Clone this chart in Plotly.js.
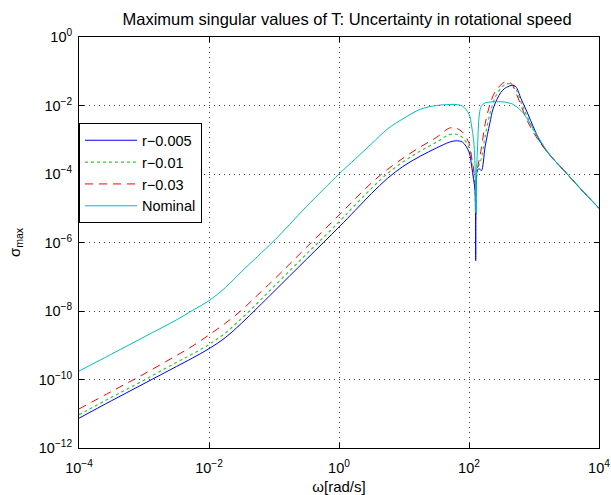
<!DOCTYPE html>
<html>
<head>
<meta charset="utf-8">
<script src="https://cdn.plot.ly/plotly-3.0.1.min.js"></script>
<style>html,body{margin:0;padding:0;background:#fff;}#chart{width:611px;height:495px;}</style>
</head>
<body>
<div id="chart"></div>
<script>
// Frequency grid [rad/s]
const omega = [1e-4, 3.16e-4, 1e-3, 3.16e-3, 5.62e-3, 1e-2, 0.0178, 0.0316, 0.0562, 0.1, 0.316, 1, 1.78, 3.16, 5.62,
  10, 17.8, 31.6, 50.1, 63.1, 79.4, 100, 109.6, 117.5, 123, 125.9, 126.8, 127.6, 130.3, 134.9, 144.5, 154.9, 177.8,
  208.9, 234.4, 269.2, 309, 354.8, 398.1, 457.1, 524.8, 631, 794.3, 1000, 1259, 1778, 3162, 5623, 10000];

// sigma_max, r-0.005
const sigR005 = [7.41e-12, 2.40e-11, 7.59e-11, 2.40e-10, 4.27e-10, 7.94e-10, 1.66e-9, 4.37e-9, 1.26e-8, 3.72e-8,
  3.24e-7, 2.82e-6, 8.71e-6, 2.69e-5, 7.59e-5, 1.74e-4, 3.31e-4, 5.75e-4, 8.51e-4, 9.33e-4, 8.51e-4, 4.37e-4, 1.74e-4,
  6.92e-5, 3.72e-5, 6.31e-6, 2.95e-7, 6.31e-6, 7.94e-5, 1.32e-4, 1.41e-4, 1.26e-4, 6.61e-4, 3.02e-3, 7.94e-3, 1.51e-2,
  2.40e-2, 3.16e-2, 3.55e-2, 3.89e-2, 3.55e-2, 1.58e-2, 6.03e-3, 2.14e-3, 8.51e-4, 3.47e-4, 1.05e-4, 3.16e-5, 1e-5];

// sigma_max, r-0.01
const sigR01 = [9.33e-12, 3.02e-11, 9.55e-11, 3.16e-10, 5.62e-10, 1.05e-9, 2.29e-9, 6.03e-9, 1.74e-8, 5.25e-8,
  4.57e-7, 3.98e-6, 1.26e-5, 3.80e-5, 1.05e-4, 2.34e-4, 4.68e-4, 8.51e-4, 1.41e-3, 1.45e-3, 1.17e-3, 5.75e-4, 2.34e-4,
  1e-4, 4.47e-5, 1.26e-5, 5.01e-6, 1.26e-5, 7.08e-5, 1.32e-4, 2.00e-4, 2.82e-4, 1.32e-3, 5.62e-3, 1.20e-2, 2.19e-2,
  3.16e-2, 4.07e-2, 4.37e-2, 4.17e-2, 3.02e-2, 1.26e-2, 4.57e-3, 1.78e-3, 8.32e-4, 3.47e-4, 1.05e-4, 3.16e-5, 1e-5];

// sigma_max, r-0.03
const sigR03 = [1.38e-11, 4.47e-11, 1.45e-10, 5.01e-10, 9.55e-10, 2.00e-9, 4.37e-9, 1.05e-8, 2.95e-8, 8.32e-8,
  7.24e-7, 6.31e-6, 1.91e-5, 5.50e-5, 1.38e-4, 3.02e-4, 6.17e-4, 1.17e-3, 2.19e-3, 2.19e-3, 1.66e-3, 7.94e-4, 3.16e-4,
  1.41e-4, 7.08e-5, 5.01e-5, 3.98e-5, 5.01e-5, 7.94e-5, 1.41e-4, 2.82e-4, 5.62e-4, 3.02e-3, 1.05e-2, 1.91e-2, 3.02e-2,
  3.98e-2, 4.90e-2, 5.01e-2, 4.17e-2, 2.40e-2, 1e-2, 3.47e-3, 1.55e-3, 7.94e-4, 3.47e-4, 1.05e-4, 3.16e-5, 1e-5];

// sigma_max, Nominal
const sigNominal = [1.76e-10, 5.50e-10, 1.74e-9, 5.50e-9, 1.05e-8, 2.00e-8, 4.79e-8, 1.41e-7, 3.98e-7, 1.12e-6,
  1.12e-5, 1e-4, 2.75e-4, 7.59e-4, 2.09e-3, 4.27e-3, 7.76e-3, 1e-2, 1.07e-2, 1.07e-2, 9.55e-3, 5.62e-3, 2.51e-3,
  1e-3, 2.51e-4, 5.01e-5, 1.58e-5, 7.24e-6, 1e-4, 5.01e-4, 5.62e-3, 9.55e-3, 1.20e-2, 1.26e-2, 1.29e-2, 1.29e-2,
  1.29e-2, 1.26e-2, 1.20e-2, 1.12e-2, 9.55e-3, 7.08e-3, 3.98e-3, 1.91e-3, 9.33e-4, 3.47e-4, 1.05e-4, 3.16e-5, 1e-5];

const seriesNames = ['r\u22120.005', 'r\u22120.01', 'r\u22120.03', 'Nominal'];
const xTickVals = [1e-4, 1e-2, 1, 1e2, 1e4];
const xTickText = ['10<sup>\u22124</sup>', '10<sup>\u22122</sup>', '10<sup>0</sup>', '10<sup>2</sup>', '10<sup>4</sup>'];
const yTickVals = [1e-12, 1e-10, 1e-8, 1e-6, 1e-4, 1e-2, 1];
const yTickText = ['10<sup>\u221212</sup>', '10<sup>\u221210</sup>', '10<sup>\u22128</sup>', '10<sup>\u22126</sup>',
  '10<sup>\u22124</sup>', '10<sup>\u22122</sup>', '10<sup>0</sup>'];
const chartTitle = 'Maximum singular values of T: Uncertainty in rotational speed';
const xTitle = '\u03c9[rad/s]';
const yTitle = '\u03c3<sub>max</sub>';

const FONT = 'Liberation Sans, Arial, Helvetica, sans-serif';

const traces = [
  {x: omega, y: sigR01, name: seriesNames[1], legendrank: 2, mode: 'lines', line: {color: '#33cc33', width: 1.2, dash: 'dot', shape: 'spline', smoothing: 1}},
  {x: omega, y: sigR005, name: seriesNames[0], legendrank: 1, mode: 'lines', line: {color: '#0000ff', width: 1, shape: 'spline', smoothing: 1}},
  {x: omega, y: sigR03, name: seriesNames[2], legendrank: 3, mode: 'lines', line: {color: '#ff0000', width: 1, dash: '8px,6px', shape: 'spline', smoothing: 1}},
  {x: omega, y: sigNominal, name: seriesNames[3], legendrank: 4, mode: 'lines', line: {color: '#00bfbf', width: 1, shape: 'spline', smoothing: 1}}
];

const axisCommon = {
  type: 'log', tickmode: 'array',
  showline: true, linecolor: '#000', linewidth: 1, mirror: 'ticks',
  ticks: 'inside', ticklen: 5, tickcolor: '#000',
  showgrid: true, gridcolor: '#444', gridwidth: 1, griddash: '1px,4px',
  zeroline: false, tickfont: {family: FONT, size: 14.5, color: '#000'}
};

const layout = {
  width: 611, height: 495,
  margin: {l: 79, r: 12, t: 37, b: 47},
  paper_bgcolor: '#fff', plot_bgcolor: '#fff',
  font: {family: FONT, size: 14, color: '#000'},
  title: {text: chartTitle, font: {family: FONT, size: 16.5, color: '#000'}, x: 0.568, xanchor: 'center', y: 0.962, yanchor: 'middle'},
  xaxis: Object.assign({}, axisCommon, {range: [-4, 4], tickvals: xTickVals, ticktext: xTickText, ticklabelstandoff: 7,
    title: {text: xTitle, font: {family: FONT, size: 15, color: '#000'}, standoff: 9}}),
  yaxis: Object.assign({}, axisCommon, {range: [-12, 0], tickvals: yTickVals, ticktext: yTickText, ticklabelstandoff: 3,
    title: {text: yTitle, font: {family: FONT, size: 15, color: '#000'}, standoff: 14}}),
  showlegend: true,
  legend: {x: 0, y: 0.79, xanchor: 'left', yanchor: 'top', bgcolor: '#fff', bordercolor: '#000', borderwidth: 1,
    font: {family: FONT, size: 14.5, color: '#000'}, itemwidth: 52, traceorder: 'normal'}
};

Plotly.newPlot('chart', traces, layout, {displayModeBar: false, staticPlot: true});
</script>
</body>
</html>
